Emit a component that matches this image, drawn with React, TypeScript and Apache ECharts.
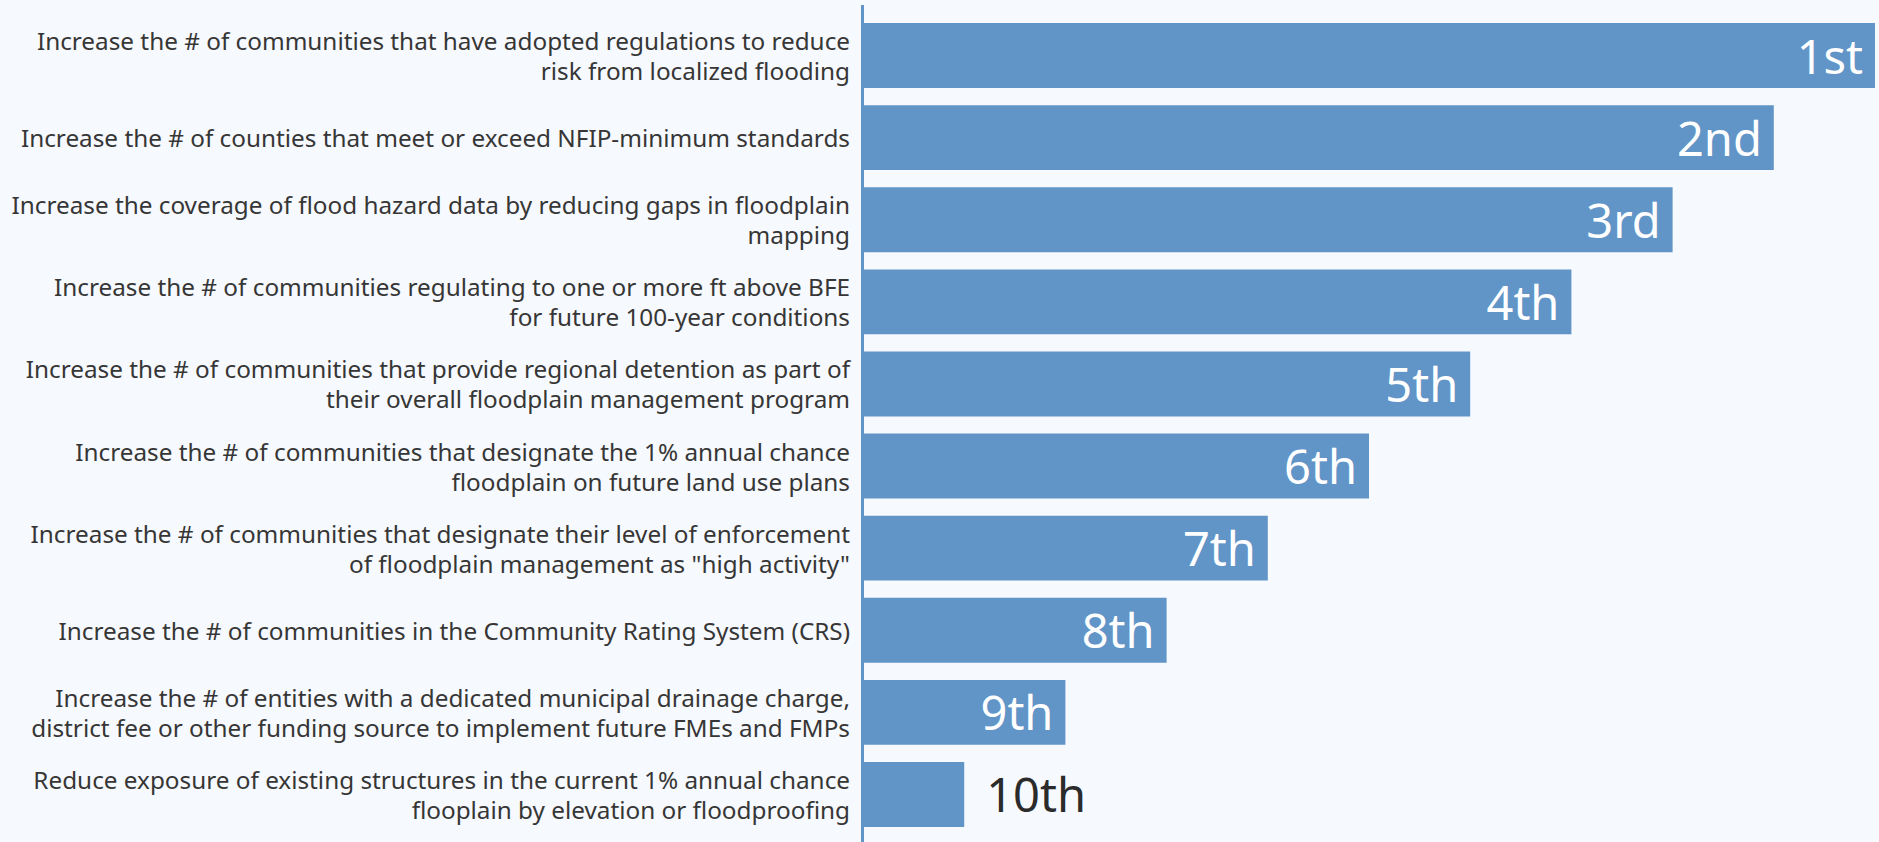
import React, { useEffect, useRef } from "react";
import * as echarts from "echarts";

const categories: string[] = [
  "Increase the # of communities that have adopted regulations to reduce\nrisk from localized flooding",
  "Increase the # of counties that meet or exceed NFIP-minimum standards",
  "Increase the coverage of flood hazard data by reducing gaps in floodplain\nmapping",
  "Increase the # of communities regulating to one or more ft above BFE\nfor future 100-year conditions",
  "Increase the # of communities that provide regional detention as part of\ntheir overall floodplain management program",
  "Increase the # of communities that designate the 1% annual chance\nfloodplain on future land use plans",
  "Increase the # of communities that designate their level of enforcement\nof floodplain management as \"high activity\"",
  "Increase the # of communities in the Community Rating System (CRS)",
  "Increase the # of entities with a dedicated municipal drainage charge,\ndistrict fee or other funding source to implement future FMEs and FMPs",
  "Reduce exposure of existing structures in the current 1% annual chance\nflooplain by elevation or floodproofing",
];
const scores: number[] = [10, 9, 8, 7, 6, 5, 4, 3, 2, 1];
const ranks: string[] = ["1st", "2nd", "3rd", "4th", "5th", "6th", "7th", "8th", "9th", "10th"];
const outsideRanks: string[] = ["10th"];

const BAR = "#6195c7";
const BG = "#f6f9fd";

export default function App() {
  const ref = useRef<HTMLDivElement>(null);
  useEffect(() => {
    document.body.style.margin = "0";
    document.body.style.background = BG;
    if (!ref.current) return;
    const chart = echarts.init(ref.current, null, { renderer: "svg" });
    const data = scores.map((v, i) => {
      const outside = outsideRanks.includes(ranks[i]);
      return {
        value: v,
        label: outside
          ? { position: "right", color: "#2b2b2b", distance: 22 }
          : { position: "insideRight", color: "#ffffff", distance: 12 },
      };
    });
    chart.setOption({
      animation: false,
      backgroundColor: BG,
      grid: {
        left: 863,
        right: 4,
        top: 14.5,
        bottom: 6.5,
        containLabel: false,
        outerBoundsMode: "none",
      },
      xAxis: { type: "value", min: 0, max: 10, show: false },
      yAxis: {
        type: "category",
        inverse: true,
        data: categories,
        axisLine: { show: false },
        axisTick: { show: false },
        axisLabel: {
          margin: 13,
          fontFamily: "Noto Sans",
          fontSize: 24.3,
          lineHeight: 30,
          color: "#363636",
          align: "right",
        },
      },
      series: [
        {
          type: "bar",
          data,
          barCategoryGap: "21%",
          itemStyle: { color: BAR },
          label: {
            show: true,
            fontFamily: "Noto Sans",
            fontSize: 47,
            formatter: (p: any) => ranks[p.dataIndex],
          },
        },
      ],
      graphic: [
        {
          type: "line",
          shape: { x1: 862.5, y1: 5, x2: 862.5, y2: 842 },
          style: { stroke: BAR, lineWidth: 3 },
          z: 10,
        },
      ],
    });
    return () => chart.dispose();
  }, []);
  return <div ref={ref} style={{ width: 1879, height: 842 }} />;
}
